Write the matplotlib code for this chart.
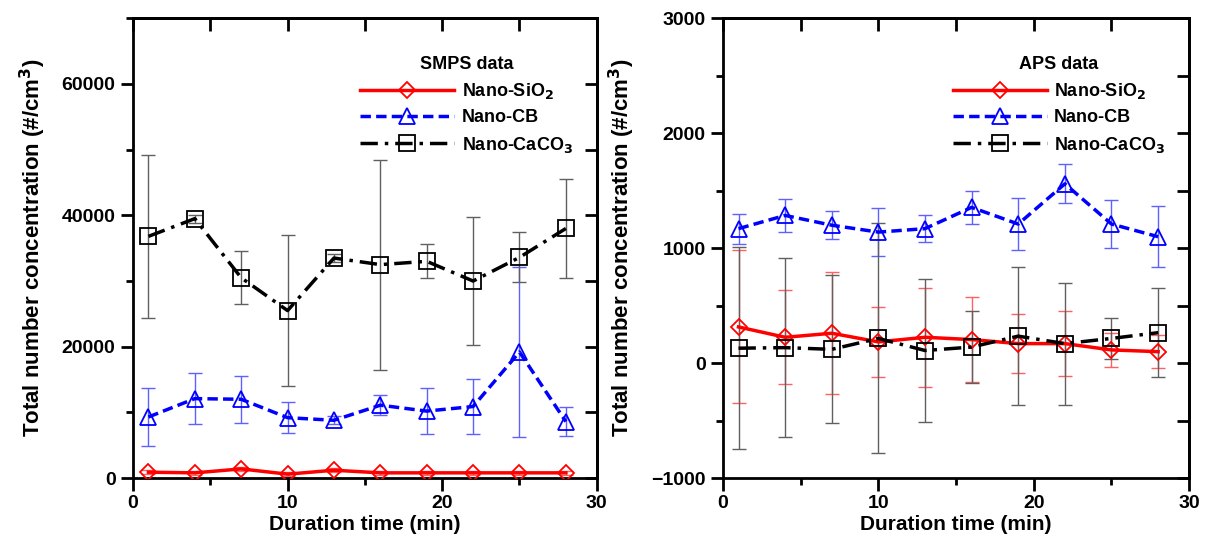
import numpy as np
import matplotlib
matplotlib.use('Agg')
import matplotlib.pyplot as plt
from matplotlib.ticker import MultipleLocator

plt.rcParams['font.family'] = ['Liberation Sans Narrow', 'Liberation Sans', 'DejaVu Sans']
plt.rcParams['font.weight'] = 'bold'

# duration time (min)
t = [1, 4, 7, 10, 13, 16, 19, 22, 25, 28]

# SMPS data (#/cm3)
smps_sio2 = [900, 800, 1400, 600, 1200, 800, 800, 800, 800, 800]
smps_sio2_err = [300, 300, 300, 300, 300, 300, 300, 300, 300, 300]
smps_cb = [9300, 12100, 12000, 9200, 8800, 11100, 10200, 10900, 19200, 8600]
smps_cb_err = [4400, 3900, 3600, 2400, 600, 1500, 3500, 4200, 13000, 2200]
smps_caco3 = [36800, 39500, 30500, 25500, 33500, 32500, 33000, 30000, 33600, 38000]
smps_caco3_err = [12400, 600, 4000, 11500, 600, 16000, 2600, 9800, 3800, 7500]

# APS data (#/cm3)
aps_sio2 = [315, 225, 260, 185, 225, 205, 170, 170, 115, 100]
aps_sio2_err = [665, 410, 530, 305, 430, 370, 260, 280, 150, 145]
aps_cb = [1170, 1285, 1200, 1140, 1170, 1355, 1210, 1560, 1210, 1100]
aps_cb_err = [130, 145, 120, 210, 120, 145, 230, 170, 205, 265]
aps_caco3 = [130, 135, 120, 215, 110, 140, 235, 170, 215, 265]
aps_caco3_err = [880, 780, 645, 1000, 625, 310, 600, 530, 180, 385]

labels = ['Nano-SiO$_2$', 'Nano-CB', 'Nano-CaCO$_3$']
colors = ['#ff0000', '#0000ff', '#000000']
ecolors = ['#ff6060', '#6060ff', '#606060']
markers = ['D', '^', 's']
msizes = [8, 11, 12]
styles = ['-', (0, (3, 1.5)), (0, (5, 2, 1, 2))]


def draw(ax, series, ylim, ymajor, yminor, title):
	for i, (y, e) in enumerate(series):
		ax.errorbar(t, y, yerr=e, fmt='none', ecolor=ecolors[i], elinewidth=1.0,
			capsize=5, capthick=1.0, zorder=1)
		ax.plot(t, y, color=colors[i], linestyle=styles[i], linewidth=2.5,
			marker=markers[i], markersize=msizes[i],
			markerfacecolor='none', markeredgecolor=colors[i], markeredgewidth=1.3,
			label=labels[i], zorder=3)
	ax.set_xlim(0, 30)
	ax.set_ylim(*ylim)
	ax.xaxis.set_major_locator(MultipleLocator(10))
	ax.xaxis.set_minor_locator(MultipleLocator(5))
	ax.yaxis.set_major_locator(MultipleLocator(ymajor))
	ax.yaxis.set_minor_locator(MultipleLocator(yminor))
	ax.tick_params(which='both', direction='out', width=2, labelsize=14, top=False, right=False)
	ax.tick_params(which='major', length=9)
	ax.tick_params(which='minor', length=5)
	# mirrored inward ticks on top and right
	sec_x = ax.secondary_xaxis('top')
	sec_x.xaxis.set_major_locator(MultipleLocator(5))
	sec_x.tick_params(direction='in', length=9, width=2, labeltop=False)
	sec_y = ax.secondary_yaxis('right')
	sec_y.yaxis.set_major_locator(MultipleLocator(yminor))
	sec_y.tick_params(direction='in', length=9, width=2, labelright=False)
	for s in ax.spines.values():
		s.set_linewidth(2)
	for s in sec_x.spines.values():
		s.set_linewidth(2)
	for s in sec_y.spines.values():
		s.set_linewidth(2)
	ax.set_xlabel('Duration time (min)', fontsize=15, fontweight='bold', labelpad=2)
	ax.set_ylabel('Total number concentration (#/cm$^3$)', fontsize=16, fontweight='bold',
		labelpad=10)
	leg = ax.legend(loc='upper right', bbox_to_anchor=(0.975, 0.945), frameon=False,
		title=title, fontsize=13, handlelength=5.2, handletextpad=0.4,
		labelspacing=0.45, borderaxespad=0.3)
	leg.get_title().set_fontweight('bold')
	leg.get_title().set_fontsize(13)


fig = plt.figure(figsize=(12.11, 5.54), dpi=100)
ax1 = fig.add_axes([0.1098, 0.137, 0.383, 0.830])
ax2 = fig.add_axes([0.597, 0.137, 0.385, 0.830])

draw(ax1, [(smps_sio2, smps_sio2_err), (smps_cb, smps_cb_err), (smps_caco3, smps_caco3_err)],
	(0, 70000), 20000, 10000, 'SMPS data')
draw(ax2, [(aps_sio2, aps_sio2_err), (aps_cb, aps_cb_err), (aps_caco3, aps_caco3_err)],
	(-1000, 3000), 1000, 500, 'APS data')

fig.savefig('out.png', dpi=100)
